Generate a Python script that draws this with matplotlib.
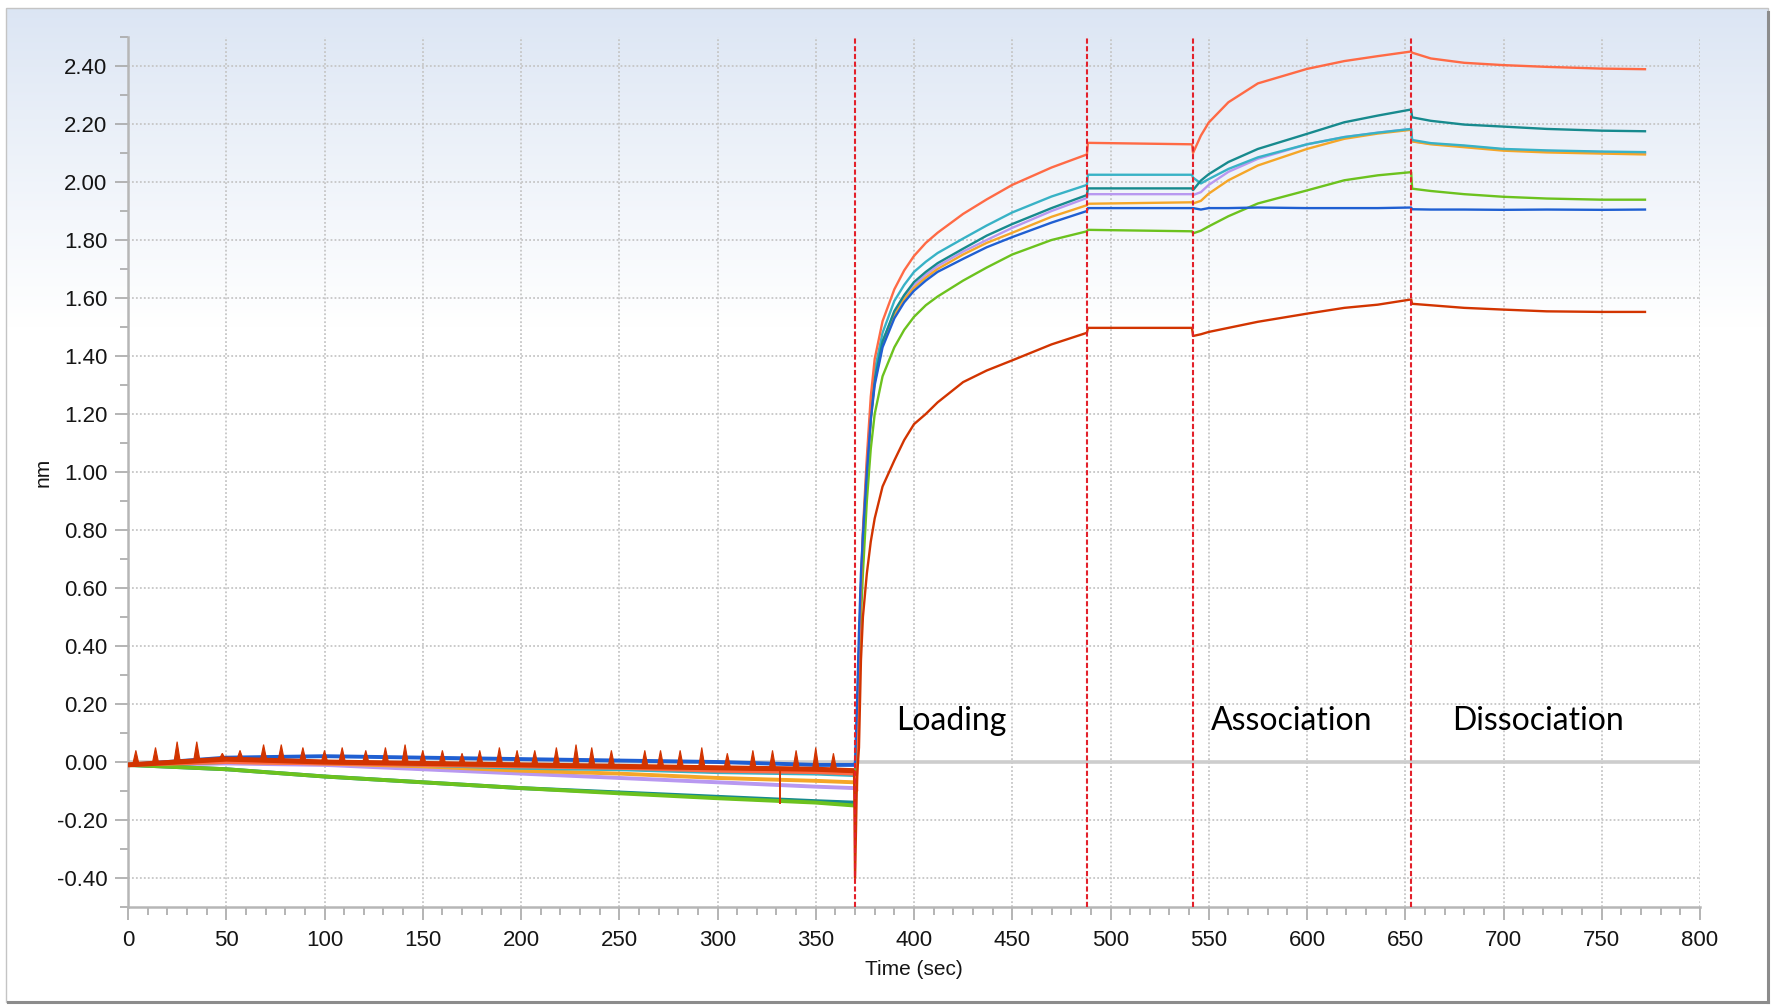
# Sensorgram: loading / association / dissociation steps
import numpy as np
import matplotlib.pyplot as plt
from matplotlib import font_manager
from matplotlib.patches import Rectangle
from matplotlib.ticker import MultipleLocator, FormatStrFormatter

installed = {f.name for f in font_manager.fontManager.ttflist}
tick_font = 'Liberation Sans Narrow' if 'Liberation Sans Narrow' in installed else 'Liberation Sans'
tick_size = 18 if tick_font == 'Liberation Sans Narrow' else 16

# ---------------- data ----------------
t = [0, 50, 100, 150, 200, 250, 300, 350, 369.5,                                   # baseline
     370, 371, 372, 373, 374, 376, 378, 380, 384, 390, 395, 400, 406, 412,
     425, 437, 450, 470, 488,                                                      # loading
     488.5, 541.5,                                                                 # baseline 2
     542, 546, 550, 560, 575, 600, 619, 636, 653,                                  # association
     653.5, 663, 680, 700, 722, 750, 772]                                          # dissociation
n_base = 9  # points in the first baseline step

coral = [-0.01, 0.00, -0.005, -0.01, -0.015, -0.02, -0.03, -0.035, -0.04,
         -0.04, -0.10, 0.35, 0.60, 0.80, 1.05, 1.26, 1.39, 1.52, 1.63, 1.695, 1.745, 1.79, 1.825,
         1.89, 1.94, 1.99, 2.05, 2.095,
         2.135, 2.13,
         2.10, 2.16, 2.205, 2.275, 2.34, 2.39, 2.417, 2.434, 2.45,
         2.446, 2.426, 2.411, 2.403, 2.397, 2.391, 2.389]

teal = [-0.01, -0.025, -0.05, -0.07, -0.09, -0.105, -0.12, -0.135, -0.14,
        -0.14, 0.10, 0.35, 0.58, 0.75, 1.00, 1.19, 1.32, 1.45, 1.555, 1.61, 1.655, 1.69, 1.72,
        1.77, 1.815, 1.855, 1.91, 1.955,
        1.978, 1.978,
        1.972, 2.005, 2.027, 2.069, 2.114, 2.166, 2.206, 2.229, 2.25,
        2.223, 2.211, 2.198, 2.191, 2.183, 2.177, 2.175]

cyan = [-0.01, 0.00, 0.00, -0.01, -0.02, -0.025, -0.035, -0.04, -0.045,
        -0.045, 0.15, 0.38, 0.60, 0.78, 1.02, 1.22, 1.35, 1.48, 1.59, 1.645, 1.69, 1.725, 1.755,
        1.805, 1.85, 1.895, 1.95, 1.99,
        2.025, 2.025,
        2.015, 1.995, 2.01, 2.045, 2.085, 2.13, 2.155, 2.17, 2.183,
        2.145, 2.134, 2.126, 2.114, 2.109, 2.105, 2.103]

lavender = [-0.01, -0.005, -0.01, -0.025, -0.04, -0.055, -0.07, -0.085, -0.09,
            -0.09, 0.10, 0.35, 0.58, 0.76, 1.00, 1.19, 1.32, 1.45, 1.55, 1.605, 1.645, 1.68, 1.71,
            1.76, 1.80, 1.842, 1.90, 1.945,
            1.958, 1.958,
            1.955, 1.965, 1.99, 2.035, 2.08, 2.13, 2.155, 2.17, 2.183,
            2.14, 2.132, 2.124, 2.112, 2.107, 2.103, 2.10]

orange = [-0.01, 0.00, -0.005, -0.015, -0.03, -0.04, -0.055, -0.065, -0.07,
          -0.07, 0.12, 0.36, 0.58, 0.76, 1.00, 1.18, 1.31, 1.44, 1.54, 1.595, 1.635, 1.67, 1.70,
          1.75, 1.79, 1.825, 1.88, 1.92,
          1.925, 1.93,
          1.926, 1.935, 1.96, 2.006, 2.057, 2.114, 2.149, 2.167, 2.18,
          2.14, 2.13, 2.12, 2.108, 2.102, 2.098, 2.095]

blue = [-0.01, 0.015, 0.02, 0.015, 0.01, 0.005, 0.00, -0.01, -0.01,
        0.00, 0.20, 0.45, 0.65, 0.78, 1.00, 1.18, 1.30, 1.43, 1.53, 1.585, 1.625, 1.66, 1.69,
        1.735, 1.775, 1.81, 1.86, 1.90,
        1.91, 1.91,
        1.91, 1.905, 1.91, 1.91, 1.912, 1.91, 1.91, 1.91, 1.912,
        1.906, 1.905, 1.905, 1.904, 1.905, 1.904, 1.905]

green = [-0.01, -0.025, -0.05, -0.07, -0.09, -0.108, -0.125, -0.14, -0.15,
         -0.15, 0.05, 0.30, 0.50, 0.65, 0.90, 1.08, 1.20, 1.33, 1.43, 1.49, 1.535, 1.575, 1.605,
         1.66, 1.705, 1.75, 1.80, 1.83,
         1.835, 1.83,
         1.823, 1.832, 1.847, 1.882, 1.926, 1.971, 2.006, 2.023, 2.034,
         1.977, 1.969, 1.958, 1.949, 1.943, 1.939, 1.939]

darkred = [-0.01, 0.01, 0.00, -0.005, -0.01, -0.015, -0.02, -0.025, -0.03,
           -0.40, -0.05, 0.05, 0.35, 0.50, 0.65, 0.76, 0.84, 0.95, 1.04, 1.11, 1.165, 1.20, 1.24,
           1.31, 1.35, 1.385, 1.44, 1.48,
           1.497, 1.497,
           1.469, 1.475, 1.483, 1.497, 1.518, 1.546, 1.566, 1.577, 1.595,
           1.58, 1.575, 1.566, 1.56, 1.554, 1.552, 1.552]

# short upward spikes on the dark red baseline, and one downward glitch
darkred_spike_t = [4, 14, 25, 35, 48, 57, 69, 78, 89, 100, 109, 121, 131, 141, 150, 160, 170, 179,
                   189, 198, 207, 218, 228, 236, 246, 263, 271, 281, 292, 305, 318, 328, 340, 350, 359]
darkred_spike_v = [0.04, 0.05, 0.07, 0.07, 0.03, 0.04, 0.06, 0.06, 0.05, 0.04, 0.05, 0.04, 0.05,
                   0.06, 0.04, 0.04, 0.03, 0.04, 0.05, 0.04, 0.04, 0.05, 0.06, 0.05, 0.04, 0.04,
                   0.04, 0.04, 0.05, 0.03, 0.04, 0.04, 0.04, 0.05, 0.03]
darkred_dip_t = [332, 332]
darkred_dip_v = [-0.025, -0.14]

step_edges = [370, 488, 542, 653]
step_names = ['Loading', 'Association', 'Dissociation']
step_name_x = [391, 551, 674]

# ---------------- figure / background panel ----------------
fig = plt.figure(figsize=(17.77, 10.05), dpi=100)

bg = fig.add_axes([0, 0, 1, 1], zorder=0)
rows = np.linspace(0, 1, 400)[:, None, None]
top = np.array([0.86, 0.898, 0.955])
fade = np.clip(rows / 0.32, 0, 1) ** 0.9
grad = top * (1 - fade) + np.ones(3) * fade
bg.imshow(grad, extent=(6, 1768, 1002, 8), aspect='auto', interpolation='bilinear')
bg.add_patch(Rectangle((6, 8), 1762, 994, fill=False, edgecolor='#c4c4c4', lw=1))
bg.plot([1768, 1768], [12, 1002], color='#8c8c8c', lw=2.2)
bg.plot([8, 1768], [1002, 1002], color='#8c8c8c', lw=2.2)
bg.set_xlim(0, 1777)
bg.set_ylim(1005, 0)
bg.axis('off')

ax = fig.add_axes([128 / 1777, 98 / 1005, 1572 / 1777, 870 / 1005], zorder=1)
ax.patch.set_visible(False)

# ---------------- traces ----------------
series = [(lavender, '#b898f0'), (orange, '#f5a628'), (cyan, '#38b2c6'),
          (teal, '#178a8e'), (green, '#6cc21e'), (coral, '#ff6a45'),
          (blue, '#1f5fd2'), (darkred, '#d23400')]
for vals, col in series:
    ax.plot(t, vals, color=col, lw=1.7, zorder=3)
    # the noisy first baseline reads as a thicker band
    ax.plot(t[:n_base], vals[:n_base], color=col, lw=2.8, zorder=3,
            solid_capstyle='butt')
ax.plot(t[:n_base], darkred[:n_base], color='#d23400', lw=3.6, zorder=3,
        solid_capstyle='butt')

# spikes drawn as narrow peaks on top of the dark red trace
spike_base = np.interp(darkred_spike_t, t, darkred)
half_w = 1.6
for st, sb, sv in zip(darkred_spike_t, spike_base, darkred_spike_v):
    ax.fill([st - half_w, st, st + half_w], [sb, sv, sb], color='#d23400',
            lw=0.8, zorder=3)
ax.plot(darkred_dip_t, darkred_dip_v, color='#d23400', lw=1.4, zorder=3)

# step boundaries
for x in step_edges:
    ax.axvline(x, color='#e3212b', lw=1.5, linestyle=(0, (2.5, 1.2)), zorder=4)

for name, x in zip(step_names, step_name_x):
    ax.text(x, 0.112, name, fontsize=23, fontfamily='Lato', color='black',
            ha='left', va='baseline', zorder=5)

# ---------------- axes styling ----------------
ax.set_xlim(0, 800)
ax.set_ylim(-0.5, 2.5)
ax.xaxis.set_major_locator(MultipleLocator(50))
ax.xaxis.set_minor_locator(MultipleLocator(10))
ax.yaxis.set_major_locator(MultipleLocator(0.2))
ax.yaxis.set_minor_locator(MultipleLocator(0.1))
ax.yaxis.set_major_formatter(FormatStrFormatter('%.2f'))

ax.grid(which='major', linestyle=(0, (1, 1.2)), color='#c6c6c6', lw=1.3)
ax.set_axisbelow(True)
ax.axhline(0, color='#cdcdcd', lw=2.6, zorder=2)

for side in ['top', 'right']:
    ax.spines[side].set_visible(False)
for side in ['left', 'bottom']:
    ax.spines[side].set_color('#b6b6b6')
    ax.spines[side].set_linewidth(1.8)

ax.tick_params(which='major', length=9.4, width=1.2, color='#a8a8a8',
               labelsize=tick_size, labelcolor='#151515')
ax.tick_params(which='minor', length=5.5, width=1.2, color='#a8a8a8')
ax.tick_params(axis='x', which='major', pad=7)
ax.tick_params(axis='y', which='major', pad=5.5)
for lab in ax.get_xticklabels() + ax.get_yticklabels():
    lab.set_fontfamily(tick_font)

ax.set_xlabel('Time (sec)', fontsize=tick_size - 1, fontfamily=tick_font, color='#151515')
ax.set_ylabel('nm', fontsize=tick_size - 1, fontfamily=tick_font, color='#151515')
ax.xaxis.set_label_coords(0.5, -0.061)
ax.yaxis.set_label_coords(-0.048, 0.5)

fig.savefig('out.png', dpi=100)
